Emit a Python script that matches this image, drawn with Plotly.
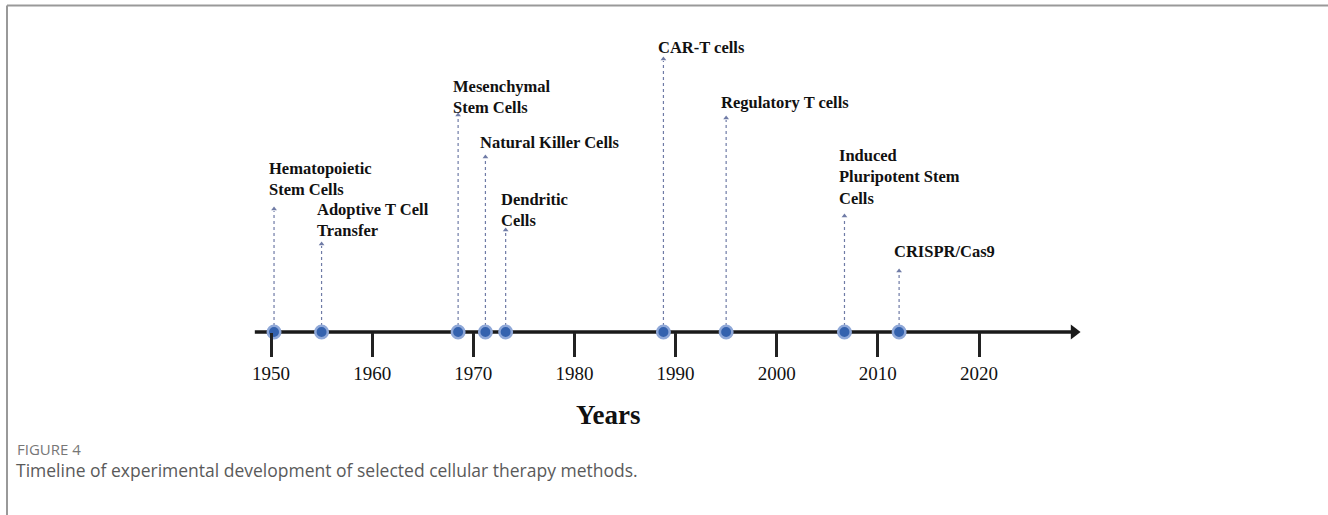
import plotly.graph_objects as go

# ---- data ----
events = ["Hematopoietic<br>Stem Cells", "Adoptive T Cell<br>Transfer", "Mesenchymal<br>Stem Cells",
          "Natural Killer Cells", "Dendritic<br>Cells", "CAR-T cells", "Regulatory T cells",
          "Induced<br>Pluripotent Stem<br>Cells", "CRISPR/Cas9"]
years = [1950.3, 1955.0, 1968.5, 1971.2, 1973.2, 1988.8, 1995.0, 2006.7, 2012.1]
tick_years = [1950, 1960, 1970, 1980, 1990, 2000, 2010, 2020]
tick_labels = ["1950", "1960", "1970", "1980", "1990", "2000", "2010", "2020"]

# ---- layout (staggered heights of stems / labels, in px above the axis) ----
stem_tops = [123, 88, 217, 175, 102, 273, 214, 116, 61]
label_mid = [153, 112.5, 235.5, 190, 122, 285, 230, 155, 81]
axis_start, axis_end = 1948.4, 2030.0

W, H = 1328, 515
px_per_year = (979 - 271) / 70.0
x0 = 1950 - 271 / px_per_year
x1 = x0 + W / px_per_year
axis_py = 332
y_lo, y_hi = -(H - axis_py), axis_py

fig = go.Figure()

# dotted stems
for yr, top in zip(years, stem_tops):
    fig.add_trace(go.Scatter(x=[yr, yr], y=[0, top - 2], mode="lines",
                             line=dict(color="#6f7ba6", width=1.2, dash="dot"),
                             hoverinfo="skip", showlegend=False))
# arrow heads
fig.add_trace(go.Scatter(x=years, y=stem_tops, mode="markers",
                         marker=dict(symbol="triangle-up", size=5, color="#6f7ba6"),
                         hoverinfo="skip", showlegend=False))
# main timeline
fig.add_trace(go.Scatter(x=[axis_start, axis_end - 0.6], y=[0, 0], mode="lines",
                         line=dict(color="#1a1a1a", width=3.5),
                         hoverinfo="skip", showlegend=False))
fig.add_trace(go.Scatter(x=[axis_end - 0.6], y=[0], mode="markers",
                         marker=dict(symbol="triangle-right", size=13, color="#1a1a1a"),
                         hoverinfo="skip", showlegend=False))
# event markers
fig.add_trace(go.Scatter(x=years, y=[0] * len(years), mode="markers",
                         marker=dict(size=12.5, color="#3462ae",
                                     line=dict(color="#8fa8d8", width=2.5)),
                         text=[e.replace("<br>", " ") for e in events],
                         hovertemplate="%{text}: %{x:.0f}<extra></extra>",
                         showlegend=False))

for e, yr, ym in zip(events, years, label_mid):
    fig.add_annotation(x=yr, y=ym, text="<b>" + e + "</b>", showarrow=False,
                       xanchor="left", yanchor="middle", align="left", xshift=-7,
                       font=dict(family="Liberation Serif", size=16.5, color="#111"))

# Years title
fig.add_annotation(x=608 / W, y=(H - 415) / H, xref="paper", yref="paper",
                   text="<b>Years</b>", showarrow=False, xanchor="center", yanchor="middle",
                   font=dict(family="Liberation Serif", size=27, color="#111"))
# caption
fig.add_annotation(x=15 / W, y=(H - 449) / H, xref="paper", yref="paper",
                   text="FIGURE 4", showarrow=False, xanchor="left", yanchor="middle",
                   font=dict(family="Open Sans", size=15, color="#777"))
fig.add_annotation(x=14 / W, y=(H - 470) / H, xref="paper", yref="paper",
                   text="Timeline of experimental development of selected cellular therapy methods.",
                   showarrow=False, xanchor="left", yanchor="middle",
                   font=dict(family="Open Sans", size=17.5, color="#5a5a5a"))

# frame (top and left)
fig.add_shape(type="line", xref="paper", yref="paper", x0=7 / W, x1=7 / W, y0=0, y1=(H - 5.5) / H,
              line=dict(color="#999", width=2))
fig.add_shape(type="line", xref="paper", yref="paper", x0=7 / W, x1=1, y0=(H - 5.5) / H, y1=(H - 5.5) / H,
              line=dict(color="#999", width=2))

fig.update_layout(
    width=W, height=H, margin=dict(l=0, r=0, t=0, b=0),
    paper_bgcolor="white", plot_bgcolor="white",
    xaxis=dict(range=[x0, x1], showgrid=False, zeroline=False, showline=False,
               tickmode="array", tickvals=tick_years, ticktext=tick_labels,
               ticks="outside", ticklen=24, tickwidth=2.5, tickcolor="#222",
               tickfont=dict(family="Liberation Serif", size=19, color="#111"),
               anchor="free", position=(H - axis_py) / H, fixedrange=True),
    yaxis=dict(range=[y_lo, y_hi], visible=False, fixedrange=True),
)

fig.write_html("out.html", config={"displayModeBar": False},
               post_script="document.body.style.margin='0';document.body.style.overflow='hidden';")
